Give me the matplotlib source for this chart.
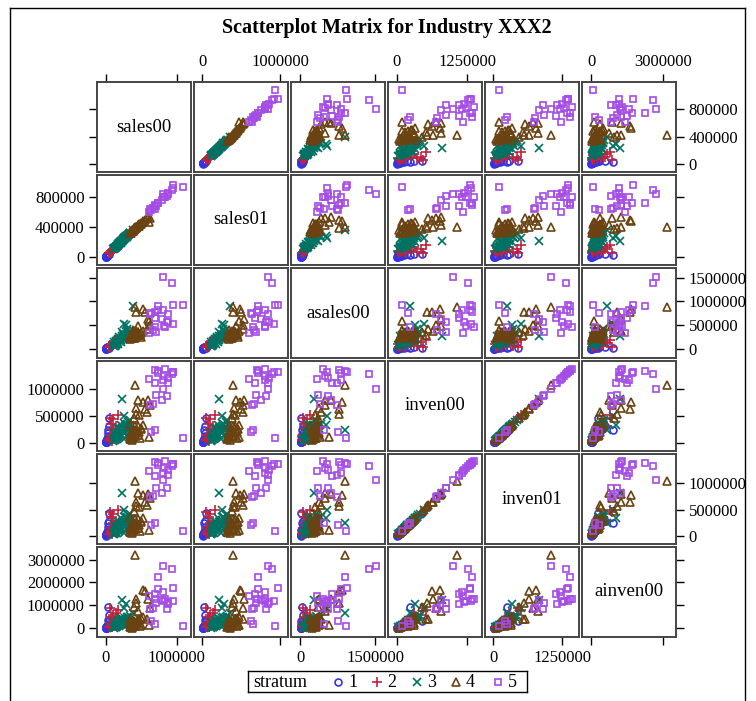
import matplotlib.pyplot as plt
from matplotlib.lines import Line2D
import numpy as np

plt.rcParams['font.family'] = ['Liberation Serif', 'DejaVu Serif']

variables = ['sales00', 'sales01', 'asales00', 'inven00', 'inven01', 'ainven00']
strata = [1, 2, 3, 4, 5]
stratum_sizes = [18, 20, 42, 34, 22]

# observations, values in thousands, grouped by stratum 1..5
sales00 = [
    30, 48, 5, 10, 15, 20, 25, 8, 35, 12, 40, 18, 3, 22, 28, 42, 16, 6,
    170, 100, 60, 80, 120, 90, 70, 110, 140, 50, 130, 75, 95, 150, 65, 85, 105, 125, 145, 160,
    390, 230, 260, 290, 300, 120, 140, 150, 160, 170, 180, 190, 200, 210, 220,
    240, 250, 270, 280, 310, 320, 330, 340, 350, 130, 165, 205, 235, 265, 285,
    110, 125, 145, 175, 195, 215, 245, 260, 275, 300, 320, 345,
    420, 610, 430, 520, 560, 600, 620, 450, 400, 470, 580, 430, 340, 360, 380,
    400, 420, 440, 460, 480, 500, 350, 370, 390, 410, 530,
    345, 365, 385, 405, 425, 455, 475, 495,
    1090, 800, 940, 740, 950, 700, 810, 690, 820, 870, 860, 620, 790, 640, 690,
    670, 710, 610, 830, 740, 880, 950,
]
sales01 = [
    28, 45, 6, 12, 14, 22, 24, 10, 32, 15, 38, 20, 4, 20, 30, 40, 18, 8,
    160, 105, 55, 75, 110, 95, 65, 100, 125, 55, 120, 80, 90, 140, 60, 88, 100, 118, 135, 150,
    360, 215, 250, 280, 270, 115, 135, 140, 155, 160, 175, 180, 190, 195, 210,
    225, 240, 255, 260, 295, 300, 310, 330, 320, 125, 150, 200, 220, 250, 275,
    108, 118, 140, 165, 185, 205, 235, 245, 265, 280, 300, 325,
    400, 470, 390, 480, 500, 540, 520, 430, 380, 420, 520, 410, 320, 330, 350,
    370, 390, 400, 420, 440, 450, 340, 360, 350, 380, 470,
    330, 345, 365, 385, 400, 420, 445, 460,
    935, 840, 900, 720, 970, 680, 800, 700, 800, 850, 820, 640, 760, 630, 650,
    660, 690, 600, 810, 720, 860, 920,
]
asales00 = [
    30, 10, 5, 20, 15, 40, 25, 8, 35, 12, 50, 22, 4, 28, 18, 45, 30, 10,
    190, 140, 50, 70, 100, 80, 60, 120, 110, 40, 150, 65, 90, 130, 45, 95, 85, 160, 120, 175,
    900, 270, 530, 510, 420, 60, 80, 100, 130, 150, 110, 200, 170, 230, 190,
    260, 210, 300, 250, 280, 330, 240, 360, 310, 70, 120, 180, 350, 220, 290,
    90, 140, 160, 210, 250, 150, 320, 270, 200, 380, 260, 290,
    890, 580, 780, 840, 770, 620, 500, 490, 350, 300, 420, 380, 250, 280, 320,
    260, 300, 340, 360, 290, 330, 200, 230, 400, 220, 380,
    270, 310, 240, 370, 280, 350, 310, 260,
    920, 1520, 1380, 900, 930, 640, 810, 770, 490, 740, 560, 740, 620, 760, 470,
    390, 350, 340, 460, 820, 560, 530,
]
inven00 = [
    240, 450, 10, 30, 20, 60, 40, 15, 90, 25, 180, 50, 8, 70, 120, 300, 35, 20,
    520, 430, 460, 350, 100, 80, 60, 150, 120, 40, 200, 90, 110, 180, 150, 30, 250, 70, 300, 140,
    230, 800, 490, 330, 350, 40, 60, 90, 120, 150, 180, 100, 210, 250, 140,
    280, 200, 300, 170, 260, 380, 230, 320, 410, 50, 110, 160, 270, 190, 240,
    30, 200, 80, 270, 130, 330, 190, 60, 350, 150, 290, 100,
    1070, 100, 530, 760, 630, 780, 700, 790, 450, 520, 560, 640, 60, 120, 180,
    240, 300, 220, 150, 90, 270, 330, 40, 100, 200, 330,
    150, 80, 260, 180, 130, 310, 200, 250,
    90, 1000, 1270, 1330, 1300, 1100, 1160, 1340, 1230, 1100, 870, 700, 790, 200, 240,
    720, 880, 1180, 1370, 1290, 1200, 1310,
]
inven01 = [
    245, 440, 12, 28, 25, 55, 45, 20, 95, 30, 170, 55, 10, 75, 115, 290, 40, 22,
    500, 420, 450, 360, 110, 85, 65, 140, 130, 45, 210, 95, 105, 190, 155, 35, 240, 75, 290, 150,
    240, 820, 500, 340, 360, 45, 65, 95, 125, 155, 185, 105, 215, 255, 150,
    290, 205, 310, 175, 270, 390, 235, 330, 420, 55, 115, 165, 275, 200, 250,
    35, 205, 85, 275, 140, 340, 195, 65, 360, 155, 300, 110,
    1040, 110, 560, 780, 640, 800, 720, 810, 470, 540, 580, 650, 70, 130, 190,
    250, 320, 230, 160, 100, 280, 340, 50, 110, 210, 340,
    160, 90, 270, 190, 140, 320, 210, 260,
    100, 1050, 1320, 1380, 1360, 1140, 1200, 1390, 1280, 1150, 900, 730, 820, 210, 250,
    750, 910, 1220, 1420, 1340, 1250, 1360,
]
ainven00 = [
    930, 300, 10, 40, 25, 80, 60, 20, 150, 35, 350, 70, 15, 110, 200, 600, 50, 30,
    780, 600, 880, 500, 150, 100, 80, 200, 170, 50, 300, 120, 140, 250, 250, 40, 400, 100, 650, 200,
    680, 1220, 900, 1040, 500, 30, 60, 100, 150, 200, 250, 120, 300, 350, 180,
    400, 220, 450, 280, 330, 480, 260, 420, 520, 40, 90, 170, 380, 230, 310,
    50, 280, 70, 380, 200, 450, 250, 90, 350, 140, 400, 160,
    3180, 140, 1100, 1680, 1620, 1260, 890, 750, 950, 400, 390, 1260, 50, 100, 200,
    300, 150, 250, 350, 80, 450, 420, 30, 180, 120, 500,
    220, 60, 330, 130, 280, 210, 380, 160,
    80, 2700, 2600, 2250, 1770, 1500, 1580, 1260, 1190, 1040, 830, 830, 1230, 320, 170,
    900, 1100, 1400, 1300, 1700, 1150, 1180,
]

axis_limits = [(-120e3, 1200e3), (-105e3, 1100e3), (-190e3, 1700e3),
               (-155e3, 1510e3), (-150e3, 1550e3), (-380e3, 3550e3)]
row_ticks = [[0, 400000, 800000], [0, 400000, 800000], [0, 500000, 1000000, 1500000],
             [0, 500000, 1000000], [0, 500000, 1000000], [0, 1000000, 2000000, 3000000]]
col_ticks = [[0, 1000000], [0, 1000000], [0, 1500000],
             [0, 1250000], [0, 1250000], [0, 3000000]]

colors = {1: '#3434e6', 2: '#c4213c', 3: '#007263', 4: '#6b4312', 5: '#a64ce6'}
markers = {1: 'o', 2: '+', 3: 'x', 4: '^', 5: 's'}
sizes = {1: 5, 2: 6.5, 3: 5.5, 4: 6, 5: 5}

values = np.array([sales00, sales01, asales00, inven00, inven01, ainven00], dtype=float) * 1000
group = np.repeat(strata, stratum_sizes)

W, H = 756, 701
fig = plt.figure(figsize=(W / 100, H / 100), dpi=100)


def px_axes(x0, y0, w, h):
    return fig.add_axes([x0 / W, 1 - (y0 + h) / H, w / W, h / H])


def draw_marks(ax, xs, ys, s):
    face = colors[s] if s in (2, 3) else 'none'
    ax.plot(xs, ys, linestyle='none', marker=markers[s], markersize=sizes[s],
            markeredgecolor=colors[s], markerfacecolor=face, markeredgewidth=1.2)


n = len(variables)
for r in range(n):
    for c in range(n):
        ax = px_axes(97 + 97 * c, 82 + 93 * r, 94, 90)
        ax.set_xlim(*axis_limits[c])
        ax.set_ylim(*axis_limits[r])
        for sp in ax.spines.values():
            sp.set_color('#454545')
            sp.set_linewidth(1.4)
        if r == c:
            ax.text(0.5, 0.5, variables[r], transform=ax.transAxes,
                    ha='center', va='center', fontsize=13.5)
        else:
            for s in strata:
                m = group == s
                draw_marks(ax, values[c][m], values[r][m], s)
        ax.set_xticks(col_ticks[c])
        ax.set_xticklabels([str(t) for t in col_ticks[c]])
        ax.set_yticks(row_ticks[r])
        ax.set_yticklabels([str(t) for t in row_ticks[r]])
        ax.tick_params(direction='out', length=6, width=1, labelsize=12, pad=3,
                       top=(r == 0), bottom=(r == n - 1),
                       left=(c == 0), right=(c == n - 1),
                       labeltop=(r == 0 and c % 2 == 1),
                       labelbottom=(r == n - 1 and c % 2 == 0),
                       labelleft=(c == 0 and r % 2 == 1),
                       labelright=(c == n - 1 and r % 2 == 0))

fig.text(387 / W, 1 - 28 / H, 'Scatterplot Matrix for Industry XXX2',
         ha='center', va='center', fontsize=14.5, fontweight='bold')

# legend row
leg = px_axes(248, 671, 279, 21)
leg.set_xlim(248, 527)
leg.set_ylim(0, 1)
leg.set_xticks([])
leg.set_yticks([])
for sp in leg.spines.values():
    sp.set_linewidth(1.0)
leg.text(253, 0.45, 'stratum', va='center', fontsize=13)
for s, x in zip(strata, [338, 377, 417, 456, 498]):
    draw_marks(leg, [x], [0.5], s)
    leg.text(x + 10, 0.45, str(s), va='center', fontsize=13)

# outer frame
for xs, ys in [((10, 10), (8, H)), ((10, 745), (8, 8)), ((745, 745), (8, H))]:
    fig.add_artist(Line2D([x / W for x in xs], [1 - y / H for y in ys],
                          color='black', linewidth=1.0))

fig.savefig('out.png', dpi=100, facecolor='white')
